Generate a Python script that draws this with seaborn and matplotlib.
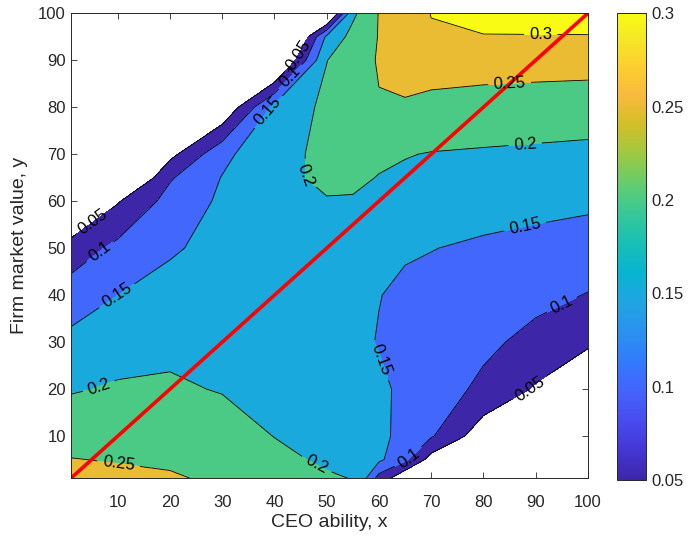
"""
Contour map: share as a function of CEO ability (x) and firm market value (y)
"""
import numpy as np
import matplotlib
matplotlib.use("Agg")
import matplotlib.pyplot as plt
from matplotlib.colors import LinearSegmentedColormap, Normalize
from matplotlib.cm import ScalarMappable
from matplotlib.ticker import FuncFormatter
import seaborn as sns

# grid (x = CEO ability, y = firm market value)
ability = [0, 10, 20, 30, 40, 50, 55, 60, 65, 70, 80, 90, 100]
market_value = [0, 5, 10, 20, 30, 40, 50, 60, 65, 70, 80, 90, 95, 100]
# one row per market value, one column per ability; values < 0.05 are left blank
share = [
    [0.270, 0.265, 0.258, 0.245, 0.228, 0.210, 0.202, 0.060, -0.02, -0.03, -0.05, -0.05, -0.05],
    [0.252, 0.247, 0.243, 0.235, 0.213, 0.192, 0.185, 0.160, 0.110, 0.030, -0.03, -0.05, -0.05],
    [0.231, 0.232, 0.232, 0.224, 0.199, 0.185, 0.172, 0.158, 0.140, 0.105, 0.020, -0.03, -0.05],
    [0.195, 0.205, 0.207, 0.197, 0.185, 0.175, 0.167, 0.157, 0.1425, 0.126, 0.089, 0.045, 0.020],
    [0.160, 0.180, 0.188, 0.185, 0.180, 0.170, 0.160, 0.148, 0.139, 0.129, 0.111, 0.085, 0.055],
    [0.120, 0.150, 0.165, 0.172, 0.172, 0.165, 0.159, 0.151, 0.143, 0.139, 0.128, 0.114, 0.098],
    [0.065, 0.113, 0.145, 0.163, 0.175, 0.178, 0.176, 0.170, 0.154, 0.151, 0.144, 0.1375, 0.128],
    [-0.05, 0.046, 0.118, 0.158, 0.181, 0.198, 0.198, 0.191, 0.184, 0.176, 0.166, 0.162, 0.159],
    [-0.05, -0.05, 0.095, 0.152, 0.190, 0.207, 0.205, 0.199, 0.193, 0.187, 0.182, 0.177, 0.174],
    [-0.05, -0.05, 0.035, 0.137, 0.190, 0.207, 0.207, 0.205, 0.202, 0.198, 0.195, 0.192, 0.189],
    [-0.05, -0.05, -0.05, 0.000, 0.163, 0.211, 0.225, 0.247, 0.246, 0.236, 0.230, 0.227, 0.224],
    [-0.05, -0.05, -0.05, -0.05, -0.05, 0.199, 0.226, 0.254, 0.265, 0.274, 0.272, 0.270, 0.269],
    [-0.05, -0.05, -0.05, -0.05, -0.15, 0.160, 0.216, 0.252, 0.272, 0.296, 0.298, 0.298, 0.298],
    [-0.05, -0.05, -0.05, -0.05, -0.05, -0.05, 0.190, 0.252, 0.278, 0.301, 0.315, 0.318, 0.320],
]
levels = [0.05, 0.1, 0.15, 0.2, 0.25, 0.3]
diagonal = [1, 100]
axis_ticks = [10, 20, 30, 40, 50, 60, 70, 80, 90, 100]

# parula colormap (MATLAB default)
parula_pts = [
    (0.2422, 0.1504, 0.6603), (0.2706, 0.2147, 0.8364), (0.2813, 0.3006, 0.9414),
    (0.2699, 0.3892, 0.9906), (0.1963, 0.4847, 0.9892), (0.1687, 0.5703, 0.9359),
    (0.1248, 0.6459, 0.8883), (0.0297, 0.7082, 0.8163), (0.0964, 0.7500, 0.7120),
    (0.2161, 0.7843, 0.5923), (0.3909, 0.8029, 0.4354), (0.6174, 0.7876, 0.2612),
    (0.8203, 0.7498, 0.1535), (0.9728, 0.7298, 0.2394), (0.9892, 0.8136, 0.1885),
    (0.9597, 0.9135, 0.1423), (0.9769, 0.9839, 0.0805),
]
pos = [i * 4 / 63 for i in range(16)] + [1.0]
parula = LinearSegmentedColormap.from_list("parula", list(zip(pos, parula_pts)))
norm = Normalize(vmin=levels[0], vmax=levels[-1])

sns.set_theme(style="ticks")
plt.rcParams["font.family"] = ["Liberation Sans", "DejaVu Sans"]
dark = "#262626"

fig = plt.figure(figsize=(6.88, 5.36), dpi=100)
ax = fig.add_axes([0.1029, 0.1076, 0.7515, 0.8676])
cax = fig.add_axes([0.8973, 0.1045, 0.0417, 0.8707])

X, Y = np.meshgrid(ability, market_value)
Z = np.array(share)

fill_levels = levels + [1.0]
fill_colors = [parula(norm(l)) for l in levels]
ax.contourf(X, Y, Z, levels=fill_levels, colors=fill_colors)
cs = ax.contour(X, Y, Z, levels=levels, colors="black", linewidths=0.6)

label_spots = [
    (91, 95.5), (85, 85.5), (88, 72), (88, 54.5), (95, 38), (89, 20),
    (60, 26), (66, 5), (48, 3.8), (10, 2.8), (6.6, 19.8), (10, 39.6),
    (5.8, 50.4), (5, 56), (44.5, 65.5), (40.5, 77.7), (43, 86.5), (44, 91.5),
]
ax.clabel(cs, inline=True, fontsize=12, fmt=lambda v: f"{v:g}", manual=label_spots)

sns.lineplot(x=diagonal, y=diagonal, color="red", linewidth=2.6, ax=ax)

ax.set_xlim(1, 100)
ax.set_ylim(1, 100)
ax.set_xticks(axis_ticks)
ax.set_yticks(axis_ticks)
ax.tick_params(direction="in", length=4, width=0.6, top=True, right=True,
               labelsize=12, colors=dark, labelcolor=dark)
ax.tick_params(axis="x", pad=12)
for sp in ax.spines.values():
    sp.set_visible(True)
    sp.set_color(dark)
    sp.set_linewidth(0.7)
ax.set_xlabel("CEO ability, x", fontsize=14, color=dark, labelpad=3)
ax.set_ylabel("Firm market value, y", fontsize=14, color=dark, labelpad=7)

sm = ScalarMappable(norm=norm, cmap=parula)
cb = fig.colorbar(sm, cax=cax, ticks=levels)
cb.ax.yaxis.set_major_formatter(FuncFormatter(lambda v, p: f"{v:g}"))
cb.ax.tick_params(direction="in", length=4, width=0.6, labelsize=12, colors=dark, labelcolor=dark)
cb.outline.set_edgecolor(dark)
cb.outline.set_linewidth(0.7)

fig.savefig("out.png", dpi=100)
